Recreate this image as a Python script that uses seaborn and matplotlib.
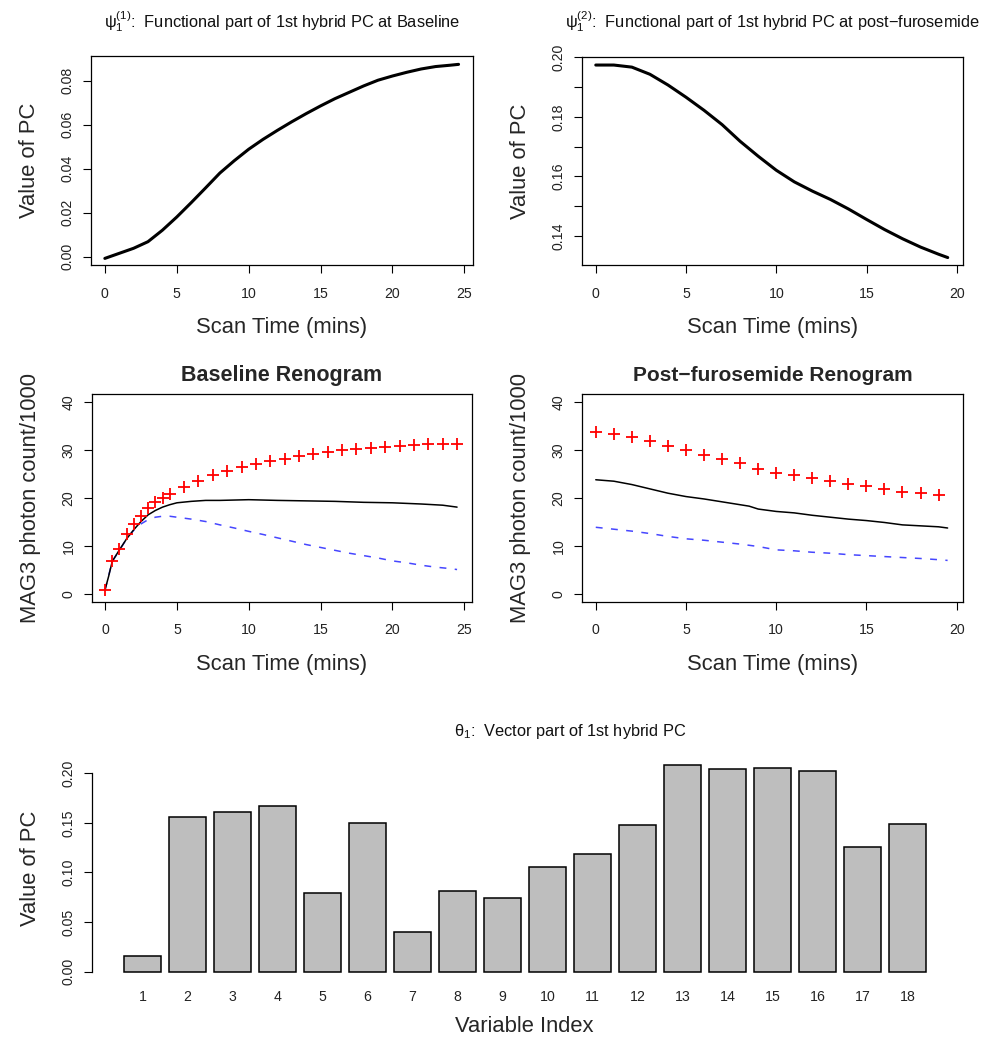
import numpy as np
import pandas as pd
import matplotlib
matplotlib.use("Agg")
import matplotlib.pyplot as plt
import seaborn as sns

# ---------------- data ----------------
pc1_time = [0, 1, 2, 3, 4, 5, 6, 7, 8, 9, 10, 11, 12, 13, 14, 15, 16, 17, 18, 19, 20, 21, 22, 23, 24, 24.6]
pc1_value = [-0.0008, 0.0015, 0.0038, 0.0068, 0.0120, 0.0180, 0.0245, 0.0312, 0.0380, 0.0436, 0.0488,
             0.0533, 0.0574, 0.0613, 0.0650, 0.0685, 0.0718, 0.0747, 0.0776, 0.0802, 0.0821, 0.0838,
             0.0853, 0.0864, 0.0870, 0.0874]

pc2_time = [0, 1, 2, 3, 4, 5, 6, 7, 8, 9, 10, 11, 12, 13, 14, 15, 16, 17, 18, 19, 19.5]
pc2_value = [0.1974, 0.1974, 0.1967, 0.1943, 0.1907, 0.1866, 0.1822, 0.1774, 0.1718, 0.1668, 0.1621,
             0.1582, 0.1551, 0.1523, 0.1491, 0.1456, 0.1422, 0.1391, 0.1363, 0.1339, 0.1328]

base_obs_time = [0, 0.5, 1, 1.5, 2, 2.5, 3, 3.5, 4, 4.5, 5.5, 6.5, 7.5, 8.5, 9.5, 10.5, 11.5, 12.5,
                 13.5, 14.5, 15.5, 16.5, 17.5, 18.5, 19.5, 20.5, 21.5, 22.5, 23.5, 24.5]
base_obs = [0.9, 6.8, 9.4, 12.4, 14.6, 16.3, 17.9, 19.2, 20.0, 20.8, 22.3, 23.6, 24.7, 25.6, 26.4,
            27.1, 27.7, 28.2, 28.7, 29.2, 29.6, 29.9, 30.2, 30.5, 30.7, 30.9, 31.0, 31.2, 31.3, 31.2]

base_fit_time = [0, 0.25, 0.5, 1, 1.5, 2, 2.5, 3, 3.5, 4, 4.5, 5, 6, 7, 8, 10, 12, 14, 16, 18, 20,
                 22, 23.5, 24.5]
base_fit = [0.9, 3.7, 6.8, 9.2, 11.5, 13.4, 15.1, 16.5, 17.4, 18.1, 18.6, 19.0, 19.3, 19.5, 19.5,
            19.65, 19.5, 19.4, 19.3, 19.1, 19.0, 18.75, 18.5, 18.1]

base_dash_time = [0, 0.5, 1, 1.5, 2, 2.5, 3, 3.5, 4, 4.5, 5, 6, 7, 8, 9, 10, 11, 12, 13, 14, 15,
                  16, 17, 18, 19, 20, 21, 22, 23, 24, 24.5]
base_dash = [0.9, 6.8, 9.1, 11.5, 13.3, 14.6, 15.5, 16.0, 16.2, 16.2, 16.0, 15.6, 15.1, 14.4, 13.75,
             13.05, 12.4, 11.7, 11.0, 10.3, 9.7, 9.1, 8.5, 8.0, 7.5, 6.9, 6.5, 6.0, 5.6, 5.3, 5.1]

post_obs_time = [0, 1, 2, 3, 4, 5, 6, 7, 8, 9, 10, 11, 12, 13, 14, 15, 16, 17, 18, 19]
post_obs = [33.75, 33.4, 32.7, 31.9, 30.8, 29.9, 29.0, 28.2, 27.3, 26.1, 25.3, 24.7, 24.2, 23.5,
            22.9, 22.4, 21.9, 21.3, 21.0, 20.6]

post_fit_time = [0, 1, 2, 3, 4, 5, 6, 7, 8, 8.5, 9, 10, 11, 12, 13, 14, 15, 16, 17, 18, 19, 19.5]
post_fit = [23.8, 23.5, 22.8, 21.9, 21.0, 20.3, 19.8, 19.2, 18.6, 18.3, 17.7, 17.2, 16.9, 16.4,
            16.0, 15.6, 15.3, 14.9, 14.4, 14.2, 14.0, 13.75]

post_dash_time = [0, 1, 2, 3, 4, 5, 6, 7, 8, 9, 10, 11, 12, 13, 14, 15, 16, 17, 18, 19, 19.5]
post_dash = [13.9, 13.5, 13.1, 12.6, 12.0, 11.5, 11.2, 10.8, 10.4, 9.9, 9.2, 9.0, 8.7, 8.5, 8.2,
             8.0, 7.8, 7.6, 7.4, 7.15, 7.0]

var_index = [str(i) for i in range(1, 19)]
theta_value = [0.0161, 0.1556, 0.1610, 0.1665, 0.0796, 0.1495, 0.0403, 0.0813, 0.0739, 0.1055,
               0.1190, 0.1480, 0.2080, 0.2046, 0.2053, 0.2020, 0.1260, 0.1489]

# ---------------- style ----------------
sns.set_theme(style="white")
plt.rcParams['font.family'] = ['Liberation Sans', 'DejaVu Sans']
plt.rcParams['mathtext.fontset'] = 'custom'
plt.rcParams['mathtext.rm'] = 'Liberation Sans'
plt.rcParams['mathtext.it'] = 'Liberation Sans:italic'
plt.rcParams['mathtext.bf'] = 'Liberation Sans:bold'
plt.rcParams['axes.edgecolor'] = 'black'
plt.rcParams['axes.linewidth'] = 0.9

W, H = 1002, 1050
fig = plt.figure(figsize=(W / 100, H / 100), dpi=100)
fig.patch.set_facecolor('white')


def axes_px(left, top, right, bottom):
    return fig.add_axes([left / W, 1 - bottom / H, (right - left) / W, (bottom - top) / H])


TICK_FS = 10.2
LAB_FS = 15.8
BLUE = '#4646ff'


def style_axes(ax):
    ax.tick_params(axis='both', direction='out', length=5.5, width=0.8, color='black',
                   labelsize=TICK_FS, labelcolor='#222222', bottom=True, left=True)
    ax.tick_params(axis='x', pad=10)
    ax.tick_params(axis='y', pad=6, labelrotation=90)
    for lab in ax.get_yticklabels():
        lab.set_va('center')
    for s in ax.spines.values():
        s.set_visible(True)
        s.set_color('black')


# ---------- panel 1 ----------
ax1 = axes_px(90.7, 56, 472.7, 265)
d1 = pd.DataFrame({'t': pc1_time, 'v': pc1_value})
sns.lineplot(data=d1, x='t', y='v', ax=ax1, color='black', linewidth=2.2, estimator=None, sort=False)
ax1.set_xlim(-0.984, 25.584)
ax1.set_ylim(-0.0038, 0.0912)
ax1.set_xticks([0, 5, 10, 15, 20, 25])
ax1.set_yticks([0.0, 0.02, 0.04, 0.06, 0.08])
ax1.set_yticklabels(['0.00', '0.02', '0.04', '0.06', '0.08'])
ax1.set_xlabel('Scan Time (mins)', fontsize=LAB_FS, labelpad=12)
ax1.set_ylabel('Value of PC', fontsize=LAB_FS, labelpad=15)
style_axes(ax1)

# ---------- panel 2 ----------
ax2 = axes_px(581.7, 56.7, 962.7, 265.3)
d2 = pd.DataFrame({'t': pc2_time, 'v': pc2_value})
sns.lineplot(data=d2, x='t', y='v', ax=ax2, color='black', linewidth=2.2, estimator=None, sort=False)
ax2.set_xlim(-0.78, 20.33)
ax2.set_ylim(0.1302, 0.2002)
ax2.set_xticks([0, 5, 10, 15, 20])
ax2.set_yticks([0.14, 0.15, 0.16, 0.17, 0.18, 0.19, 0.20])
ax2.set_yticklabels(['0.14', '', '0.16', '', '0.18', '', '0.20'])
ax2.set_xlabel('Scan Time (mins)', fontsize=LAB_FS, labelpad=12)
ax2.set_ylabel('Value of PC', fontsize=LAB_FS, labelpad=15)
style_axes(ax2)


# ---------- renogram panels ----------
def renogram(ax, ot, ov, ft, fv, dt, dv, xlim, xticks):
    dd = pd.DataFrame({'t': dt, 'v': dv})
    sns.lineplot(data=dd, x='t', y='v', ax=ax, color=BLUE, linewidth=1.1, estimator=None, sort=False)
    ax.lines[-1].set_linestyle((0, (4.5, 5.5)))
    df = pd.DataFrame({'t': ft, 'v': fv})
    sns.lineplot(data=df, x='t', y='v', ax=ax, color='black', linewidth=1.1, estimator=None, sort=False)
    do = pd.DataFrame({'t': ot, 'v': ov})
    sns.scatterplot(data=do, x='t', y='v', ax=ax, marker='+', s=70, color='#ff0000', linewidth=1.3,
                    zorder=3)
    ax.set_xlim(*xlim)
    ax.set_ylim(-1.6, 41.6)
    ax.set_xticks(xticks)
    ax.set_yticks([0, 10, 20, 30, 40])
    ax.set_xlabel('Scan Time (mins)', fontsize=LAB_FS, labelpad=12)
    ax.set_ylabel('MAG3 photon count/1000', fontsize=LAB_FS, labelpad=15)
    style_axes(ax)


ax3 = axes_px(91.7, 394.3, 472.3, 601.7)
renogram(ax3, base_obs_time, base_obs, base_fit_time, base_fit, base_dash_time, base_dash,
         (-0.93, 25.56), [0, 5, 10, 15, 20, 25])
ax4 = axes_px(581.7, 394.3, 963.3, 601.7)
renogram(ax4, post_obs_time, post_obs, post_fit_time, post_fit, post_dash_time, post_dash,
         (-0.78, 20.37), [0, 5, 10, 15, 20])

# ---------- bar panel ----------
ax5 = axes_px(91.7, 757, 957.7, 980)
db = pd.DataFrame({'idx': var_index, 'val': theta_value})
sns.barplot(data=db, x='idx', y='val', order=var_index, ax=ax5, color='#bebebe', saturation=1,
            edgecolor='black', linewidth=1.1, width=0.833)
ax5.set_xlim(-1.129, 18.115)
ax5.set_ylim(-0.0083, 0.2163)
ax5.spines['left'].set_bounds(0, 0.20)
ax5.set_yticks([0.0, 0.05, 0.10, 0.15, 0.20])
ax5.set_yticklabels(['0.00', '0.05', '0.10', '0.15', '0.20'])
ax5.set_xlabel('Variable Index', fontsize=LAB_FS, labelpad=9)
ax5.set_ylabel('Value of PC', fontsize=LAB_FS, labelpad=15)
style_axes(ax5)
for k in ['top', 'right', 'bottom']:
    ax5.spines[k].set_visible(False)
ax5.tick_params(axis='x', length=0, pad=7)

# ---------- titles ----------
fig.text(281.7 / W, 1 - 28 / H,
         r'$\mathregular{\psi_1^{(1)}}$:  Functional part of 1st hybrid PC at Baseline',
         ha='center', va='baseline', fontsize=11.8, color='#111111')
fig.text(772 / W, 1 - 28 / H,
         r'$\mathregular{\psi_1^{(2)}}$:  Functional part of 1st hybrid PC at post−furosemide',
         ha='center', va='baseline', fontsize=11.8, color='#111111')
fig.text(282 / W, 1 - 381 / H, 'Baseline Renogram', ha='center', va='baseline',
         fontsize=15.5, fontweight='bold')
fig.text(772.5 / W, 1 - 381 / H, 'Post−furosemide Renogram', ha='center', va='baseline',
         fontsize=15.0, fontweight='bold')
fig.text(570 / W, 1 - 736 / H, r'$\mathregular{\theta_1}$:  Vector part of 1st hybrid PC',
         ha='center', va='baseline', fontsize=11.8, color='#111111')

fig.savefig('out.png', dpi=100, facecolor='white')
